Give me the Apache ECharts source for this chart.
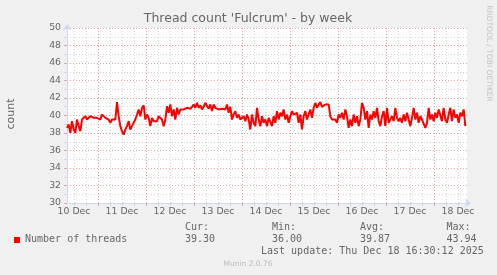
<!DOCTYPE html>
<html><head><meta charset="utf-8">
<script src="https://cdn.jsdelivr.net/npm/echarts@6/dist/echarts.min.js"></script>
<style>html,body{margin:0;padding:0;background:#f0f0f0}#c{width:497px;height:275px}</style>
</head><body><div id="c"></div>
<script>
// ---- data ----
const titleText = "Thread count 'Fulcrum' - by week";
const yAxisName = 'count';
const dayLabels = ['10 Dec','11 Dec','12 Dec','13 Dec','14 Dec','15 Dec','16 Dec','17 Dec','18 Dec'];
const yMin = 30, yMax = 50, yStep = 2;
const xMinHour = 8.5, xMaxHour = 208.5;   // hours since 10 Dec 00:00
const startHour = 8.5;                     // first sample
const stepHours = 5 / 6;                   // 50 minutes between samples
const threads = [
 38.59,38.97,38.02,39.35,38.40,38.02,39.54,38.78,38.21,39.54,39.73,39.92,39.54,39.73,39.92,40.11,
 39.73,39.54,39.73,39.92,39.54,40.11,39.92,39.73,39.92,39.54,39.16,39.54,39.35,39.54,41.53,39.92,
 38.78,38.21,37.82,38.40,38.78,39.35,38.40,38.78,38.97,39.54,40.11,40.69,39.92,40.88,41.15,39.54,
 40.11,39.73,38.78,39.73,39.35,39.16,39.35,39.92,39.92,39.54,38.78,39.54,41.07,40.31,41.26,39.92,
 40.69,39.54,40.88,40.11,40.69,40.88,40.69,40.76,40.88,41.07,40.76,40.99,41.26,40.88,41.45,40.88,
 41.15,40.69,40.99,41.45,41.45,40.76,41.26,40.50,41.26,40.88,41.07,40.69,40.88,40.76,40.88,40.69,
 41.26,40.31,40.99,39.54,40.11,40.50,39.73,40.11,39.54,39.73,39.92,39.35,40.11,39.54,38.40,40.11,
 39.16,38.78,40.88,39.54,38.78,39.92,39.16,39.54,38.78,39.73,
 39.54,38.78,39.92,39.16,40.50,39.54,40.31,39.92,40.69,39.54,40.11,39.16,39.92,40.50,40.11,39.92,
 40.31,39.16,40.11,38.40,39.92,40.50,39.54,40.11,40.69,39.73,40.88,41.45,40.88,41.26,41.53,40.99,
 41.15,41.26,41.15,41.26,39.92,39.54,39.73,39.54,39.16,40.11,39.73,40.31,39.54,40.69,39.92,38.59,
 39.54,38.78,40.11,39.16,39.92,38.78,39.54,41.45,40.88,39.54,40.50,38.59,40.11,39.54,40.50,39.73,
 40.88,39.35,38.78,39.92,40.50,38.78,40.88,39.16,39.54,39.92,39.35,40.88,39.73,39.35,39.73,39.16,
 40.11,39.35,40.31,39.54,38.78,39.73,40.88,39.54,40.31,39.16,39.92,39.54,39.73,38.59,39.16,40.88,
 39.54,40.11,39.35,40.31,39.73,40.69,40.50,39.35,40.88,39.54,39.16,40.11,40.88,39.35,40.69,39.73,
 40.11,39.16,40.31,39.92,40.69,38.78
];
const seriesName = 'Number of threads';
const statNames = ['Cur:', 'Min:', 'Avg:', 'Max:'];
const statValues = ['39.30', '36.00', '39.87', '43.94'];
const lastUpdate = 'Last update: Thu Dec 18 16:30:12 2025';
const footer = 'Munin 2.0.76';
const watermark = 'RRDTOOL / TOBI OETIKER';

// ---- derived ----
const seriesData = threads.map((v, i) => [startHour + i * stepHours, v]);
const sixHourMarks = [], dayMarks = [], noonMarks = [];
for (let h = 0; h <= xMaxHour; h += 6) {
  if (h > xMinHour && h < xMaxHour) {
    if (h % 24 === 0) dayMarks.push(h); else sixHourMarks.push(h);
  }
}
dayLabels.forEach((d, i) => noonMarks.push(12 + 24 * i));

const axisCol = '#cfd6f8';
const majorCol = '#e9a0a0';
const minorCol = '#d4d4d4';
const fontCol = '#666666';
const sans = 'DejaVu Sans';
const mono = 'DejaVu Sans Mono';

const baseX = {
  type: 'value', min: xMinHour, max: xMaxHour, position: 'bottom',
  axisLine: { show: false }, axisLabel: { show: false }, axisTick: { show: false }, splitLine: { show: false }
};

const statX = [185, 272, 360, 446.5];
const graphics = [
  { type: 'text', x: 248, y: 19, style: { text: titleText, font: '12.5px "' + sans + '"', fill: fontCol, textAlign: 'center', textVerticalAlign: 'middle' } },
  { type: 'text', x: 11, y: 114, rotation: Math.PI / 2, style: { text: yAxisName, font: '11px "' + sans + '"', fill: fontCol, textAlign: 'center', textVerticalAlign: 'middle' } },
  { type: 'text', x: 488.5, y: 53.5, rotation: -Math.PI / 2, style: { text: watermark, font: '7.5px "' + sans + '"', fill: '#c4c4c4', textAlign: 'center', textVerticalAlign: 'middle' } },
  { type: 'rect', shape: { x: 14, y: 237, width: 6, height: 6 }, style: { fill: '#ff0000' } },
  { type: 'text', x: 25, y: 239.5, style: { text: seriesName, font: '10px "' + mono + '"', fill: fontCol, textAlign: 'left', textVerticalAlign: 'middle' } },
  { type: 'text', x: 261, y: 251.7, style: { text: lastUpdate, font: '10px "' + mono + '"', fill: fontCol, textAlign: 'left', textVerticalAlign: 'middle' } },
  { type: 'text', x: 248, y: 264, style: { text: footer, font: '7.5px "' + sans + '"', fill: '#bcbcbc', textAlign: 'center', textVerticalAlign: 'middle' } }
];
statNames.forEach((n, i) => {
  graphics.push({ type: 'text', x: statX[i], y: 227.7, style: { text: n, font: '10px "' + mono + '"', fill: fontCol, textAlign: 'left', textVerticalAlign: 'middle' } });
  graphics.push({ type: 'text', x: statX[i], y: 239.5, style: { text: statValues[i], font: '10px "' + mono + '"', fill: fontCol, textAlign: 'left', textVerticalAlign: 'middle' } });
});

const chart = echarts.init(document.getElementById('c'), null, { renderer: 'canvas' });
chart.setOption({
  animation: false,
  backgroundColor: '#f0f0f0',
  grid: { left: 67, top: 28, width: 400, height: 175, show: true, backgroundColor: '#ffffff', borderWidth: 0 },
  xAxis: [
    Object.assign({}, baseX, {
      axisTick: { show: true, customValues: sixHourMarks, length: 3, inside: false, lineStyle: { color: minorCol } },
      splitLine: { show: true, lineStyle: { color: minorCol, type: [1, 2], width: 1 } }
    }),
    Object.assign({}, baseX, {
      axisTick: { show: true, customValues: dayMarks, length: 3, lineStyle: { color: majorCol } },
      splitLine: { show: true, lineStyle: { color: majorCol, type: [1, 2], width: 1 } }
    }),
    Object.assign({}, baseX, {
      axisLine: { show: true, lineStyle: { color: axisCol, width: 1 }, symbol: ['none', 'arrow'], symbolSize: [7, 6], symbolOffset: [0, 4] },
      axisLabel: { show: true, customValues: noonMarks, margin: 4, color: fontCol, fontFamily: sans, fontSize: 9.3,
        formatter: v => dayLabels[Math.round((v - 12) / 24)] },
      axisTick: { show: false, customValues: noonMarks }
    })
  ],
  yAxis: {
    type: 'value', min: yMin, max: yMax, interval: yStep,
    axisLine: { show: true, lineStyle: { color: axisCol, width: 1 }, symbol: ['none', 'arrow'], symbolSize: [7, 6], symbolOffset: [0, 4] },
    axisTick: { show: true, length: 3, lineStyle: { color: majorCol } },
    minorTick: { show: true, splitNumber: 2, length: 3, lineStyle: { color: minorCol } },
    axisLabel: { margin: 6, color: fontCol, fontFamily: sans, fontSize: 9.3 },
    splitLine: { show: true, lineStyle: { color: majorCol, type: [1, 2], width: 1 } },
    minorSplitLine: { show: true, lineStyle: { color: minorCol, type: [1, 2], width: 1 } }
  },
  series: [{
    name: seriesName, type: 'line', xAxisIndex: 2, data: seriesData, showSymbol: false, symbol: 'none',
    lineStyle: { color: '#ff0000', width: 2 }, itemStyle: { color: '#ff0000' }, z: 5
  }],
  graphic: graphics
});
</script></body></html>
